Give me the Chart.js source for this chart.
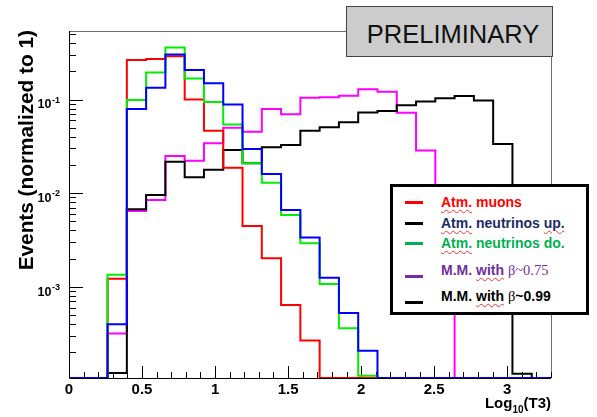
<!DOCTYPE html>
<html><head><meta charset="utf-8">
<script src="https://cdn.jsdelivr.net/npm/chart.js@4.4.0/dist/chart.umd.min.js"></script>
<style>
html,body{margin:0;padding:0;background:#fff;}
#wrap{position:relative;width:597px;height:417px;overflow:hidden;background:#fff;}
#c{position:absolute;left:0;top:0;}
#prelim{position:absolute;left:346px;top:6px;width:207px;height:51px;box-sizing:border-box;background:#cccccc;border:1px solid #444;font:25.5px "Liberation Sans",Arial,sans-serif;color:#111;text-align:center;line-height:54px;padding-left:7px;overflow:hidden;}
#legend{position:absolute;left:390px;top:184px;width:199px;height:131px;box-sizing:border-box;border:3px solid #000;background:#fff;font-family:"Liberation Sans",Arial,sans-serif;font-weight:bold;font-size:14px;}
.ln{position:absolute;left:12px;width:18px;height:3px;}
.tx{position:absolute;left:48px;white-space:nowrap;line-height:16px;}
.sp{text-decoration:underline wavy #e33;text-decoration-thickness:1px;text-underline-offset:2px;}
.gr{font-family:"Liberation Serif","Times New Roman",serif;font-weight:normal;font-size:14.5px;}
</style></head>
<body>
<div id="wrap">
<canvas id="c" width="597" height="417"></canvas>
<div id="prelim">PRELIMINARY</div>
<div id="legend">
  <div class="ln" style="top:14px;background:#ff0000"></div>
  <div class="tx" style="top:7px;color:#ff0000"><span class="sp">Atm.</span> muons</div>
  <div class="ln" style="top:35px;background:#000"></div>
  <div class="tx" style="top:27.5px;color:#1c2a66"><span class="sp">Atm.</span> neutrinos <span class="sp">up.</span></div>
  <div class="ln" style="top:55px;background:#00b050"></div>
  <div class="tx" style="top:47.5px;color:#00b050"><span class="sp">Atm.</span> neutrinos do.</div>
  <div class="ln" style="top:88px;background:#7030a0"></div>
  <div class="tx" style="top:74.5px;color:#7030a0">M.M. <span class="sp">with</span> <span class="gr">β~0.75</span></div>
  <div class="ln" style="top:114px;background:#000"></div>
  <div class="tx" style="top:101px;color:#000">M.M. <span class="sp">with</span> <span class="gr">β</span>~0.99</div>
</div>
</div>
<script>
// Histogram bin edges (25 bins from 0 to 3.3)
const binEdges = [0, 0.132, 0.264, 0.396, 0.528, 0.66, 0.792, 0.924, 1.056, 1.188, 1.32, 1.452, 1.584,
  1.716, 1.848, 1.98, 2.112, 2.244, 2.376, 2.508, 2.64, 2.772, 2.904, 3.036, 3.168, 3.3];

// Series values per bin (normalized to 1), 0 = empty bin
const atmMuons   = [0, 0, 0.00122, 0.264, 0.272, 0.29, 0.100, 0.0465, 0.0187, 0.00447, 0.00202, 0.00064, 0.000267,
  0, 0, 0, 0, 0, 0, 0, 0, 0, 0, 0, 0];
const atmNuDown  = [0, 0, 0.00134, 0.0989, 0.195, 0.360, 0.168, 0.094, 0.0543, 0.0209, 0.0129, 0.00585, 0.00292,
  0.00107, 0.000361, 0.000112, 0, 0, 0, 0, 0, 0, 0, 0, 0];
const atmNuUp    = [0, 0, 0.000398, 0.0792, 0.1337, 0.303, 0.2066, 0.149, 0.0888, 0.0296, 0.016, 0.00662, 0.00335,
  0.00125, 0.000525, 0.000207, 0, 0, 0, 0, 0, 0, 0, 0, 0];
const mmBeta075  = [0, 0, 0.000316, 0.00646, 0.00845, 0.0249, 0.0222, 0.0341, 0.050, 0.0453, 0.0792, 0.0695, 0.1045,
  0.106, 0.110, 0.129, 0.121, 0.0723, 0.0285, 0.003, 0, 0, 0, 0, 0];
const mmBeta099  = [0, 0, 0.00012, 0.00673, 0.00957, 0.0217, 0.0148, 0.0178, 0.0289, 0.0209, 0.031, 0.0327, 0.0464,
  0.0505, 0.0571, 0.0729, 0.0753, 0.0867, 0.0956, 0.103, 0.109, 0.098, 0.0335, 0.000118, 0];

// Axis ticks / labels
const xTickValues = [0, 0.5, 1, 1.5, 2, 2.5, 3];
const xTickLabels = ['0', '0.5', '1', '1.5', '2', '2.5', '3'];
const yTickExponents = [-1, -2, -3];
const xMin = 0, xMax = 3.3, yMin = 1.06e-4, yMax = 0.54;

function histPoints(vals) {
  return binEdges.map((e, i) => {
    const v = i < vals.length ? vals[i] : 0;
    return { x: e, y: v > 0 ? v : yMin };
  });
}
function ds(label, vals, color, order) {
  return { label, data: histPoints(vals), borderColor: color, borderWidth: 2, stepped: 'before',
    pointRadius: 0, fill: false, tension: 0, order };
}

const rootAxes = {
  id: 'rootAxes',
  beforeDatasetsDraw(chart) {
    const { ctx, chartArea: a, scales: { x, y } } = chart;
    ctx.save();
    ctx.lineWidth = 1;
    // grey frame top & right
    ctx.strokeStyle = '#6f6f6f';
    ctx.beginPath();
    ctx.moveTo(a.left, Math.round(a.top) + 0.5);
    ctx.lineTo(Math.round(a.right) + 0.5, Math.round(a.top) + 0.5);
    ctx.lineTo(Math.round(a.right) + 0.5, a.bottom);
    ctx.stroke();
    // black axes
    ctx.strokeStyle = '#000';
    ctx.beginPath();
    ctx.moveTo(Math.round(a.left) + 0.5, a.top);
    ctx.lineTo(Math.round(a.left) + 0.5, Math.round(a.bottom) + 0.5);
    ctx.lineTo(a.right, Math.round(a.bottom) + 0.5);
    ctx.stroke();
    // x ticks (inward)
    ctx.beginPath();
    for (let i = 0; i <= 33; i++) {
      const px = Math.round(x.getPixelForValue(i / 10)) + 0.5;
      const len = (i % 5 === 0) ? 12 : 6;
      ctx.moveTo(px, a.bottom);
      ctx.lineTo(px, a.bottom - len);
    }
    // y ticks (inward)
    for (let e = -4; e <= -1; e++) {
      for (let m = 1; m <= 9; m++) {
        const v = m * Math.pow(10, e);
        if (v < yMin || v > yMax) continue;
        const py = Math.round(y.getPixelForValue(v)) + 0.5;
        const len = m === 1 ? 14 : 7;
        ctx.moveTo(a.left, py);
        ctx.lineTo(a.left + len, py);
      }
    }
    ctx.stroke();
    ctx.restore();
  },
  afterDraw(chart) {
    const { ctx, chartArea: a, scales: { x, y } } = chart;
    ctx.save();
    ctx.fillStyle = '#000';
    // x tick labels
    ctx.font = 'bold 15px "Liberation Sans", Arial, sans-serif';
    ctx.textAlign = 'center';
    ctx.textBaseline = 'alphabetic';
    xTickValues.forEach((v, i) => {
      ctx.fillText(xTickLabels[i], x.getPixelForValue(v), 393.5);
    });
    // y tick labels 10^e
    yTickExponents.forEach(e => {
      const py = y.getPixelForValue(Math.pow(10, e));
      ctx.font = 'bold 12.5px "Liberation Sans", Arial, sans-serif';
      ctx.textAlign = 'right';
      ctx.fillText('10', 51.5, py + 8.8);
      ctx.font = 'bold 9px "Liberation Sans", Arial, sans-serif';
      ctx.textAlign = 'left';
      ctx.fillText(String(e), 52, py + 3);
    });
    // y title
    ctx.save();
    ctx.translate(33, 30);
    ctx.rotate(-Math.PI / 2);
    ctx.font = 'bold 20.8px "Liberation Sans", Arial, sans-serif';
    ctx.textAlign = 'right';
    ctx.fillText('Events (normalized to 1)', 0, 0);
    ctx.restore();
    // x title: Log10(T3), right aligned at axis end
    const f1 = 'bold 15px "Liberation Sans", Arial, sans-serif';
    const f2 = 'bold 10px "Liberation Sans", Arial, sans-serif';
    ctx.textAlign = 'left';
    ctx.font = f1; const wLog = ctx.measureText('Log').width; const wT = ctx.measureText('(T3)').width;
    ctx.font = f2; const wSub = ctx.measureText('10').width;
    let sx = a.right - (wLog + wSub + wT);
    const base = 407.5;
    ctx.font = f1; ctx.fillText('Log', sx, base); sx += wLog;
    ctx.font = f2; ctx.fillText('10', sx, base + 5); sx += wSub;
    ctx.font = f1; ctx.fillText('(T3)', sx, base);
    ctx.restore();
  }
};

new Chart(document.getElementById('c'), {
  type: 'line',
  data: {
    datasets: [
      ds('Atm. neutrinos up.', atmNuUp, '#0000ff', 0),
      ds('Atm. neutrinos do.', atmNuDown, '#00ee00', 1),
      ds('Atm. muons', atmMuons, '#ff0000', 2),
      ds('M.M. with β~0.99', mmBeta099, '#000000', 3),
      ds('M.M. with β~0.75', mmBeta075, '#ff00ff', 4)
    ]
  },
  options: {
    responsive: false,
    animation: false,
    devicePixelRatio: 1,
    layout: { padding: { left: 69, right: 46, top: 31, bottom: 39 } },
    plugins: { legend: { display: false }, tooltip: { enabled: false } },
    scales: {
      x: { type: 'linear', min: xMin, max: xMax, display: false },
      y: { type: 'logarithmic', min: yMin, max: yMax, display: false }
    }
  },
  plugins: [rootAxes]
});
</script>
</body></html>
